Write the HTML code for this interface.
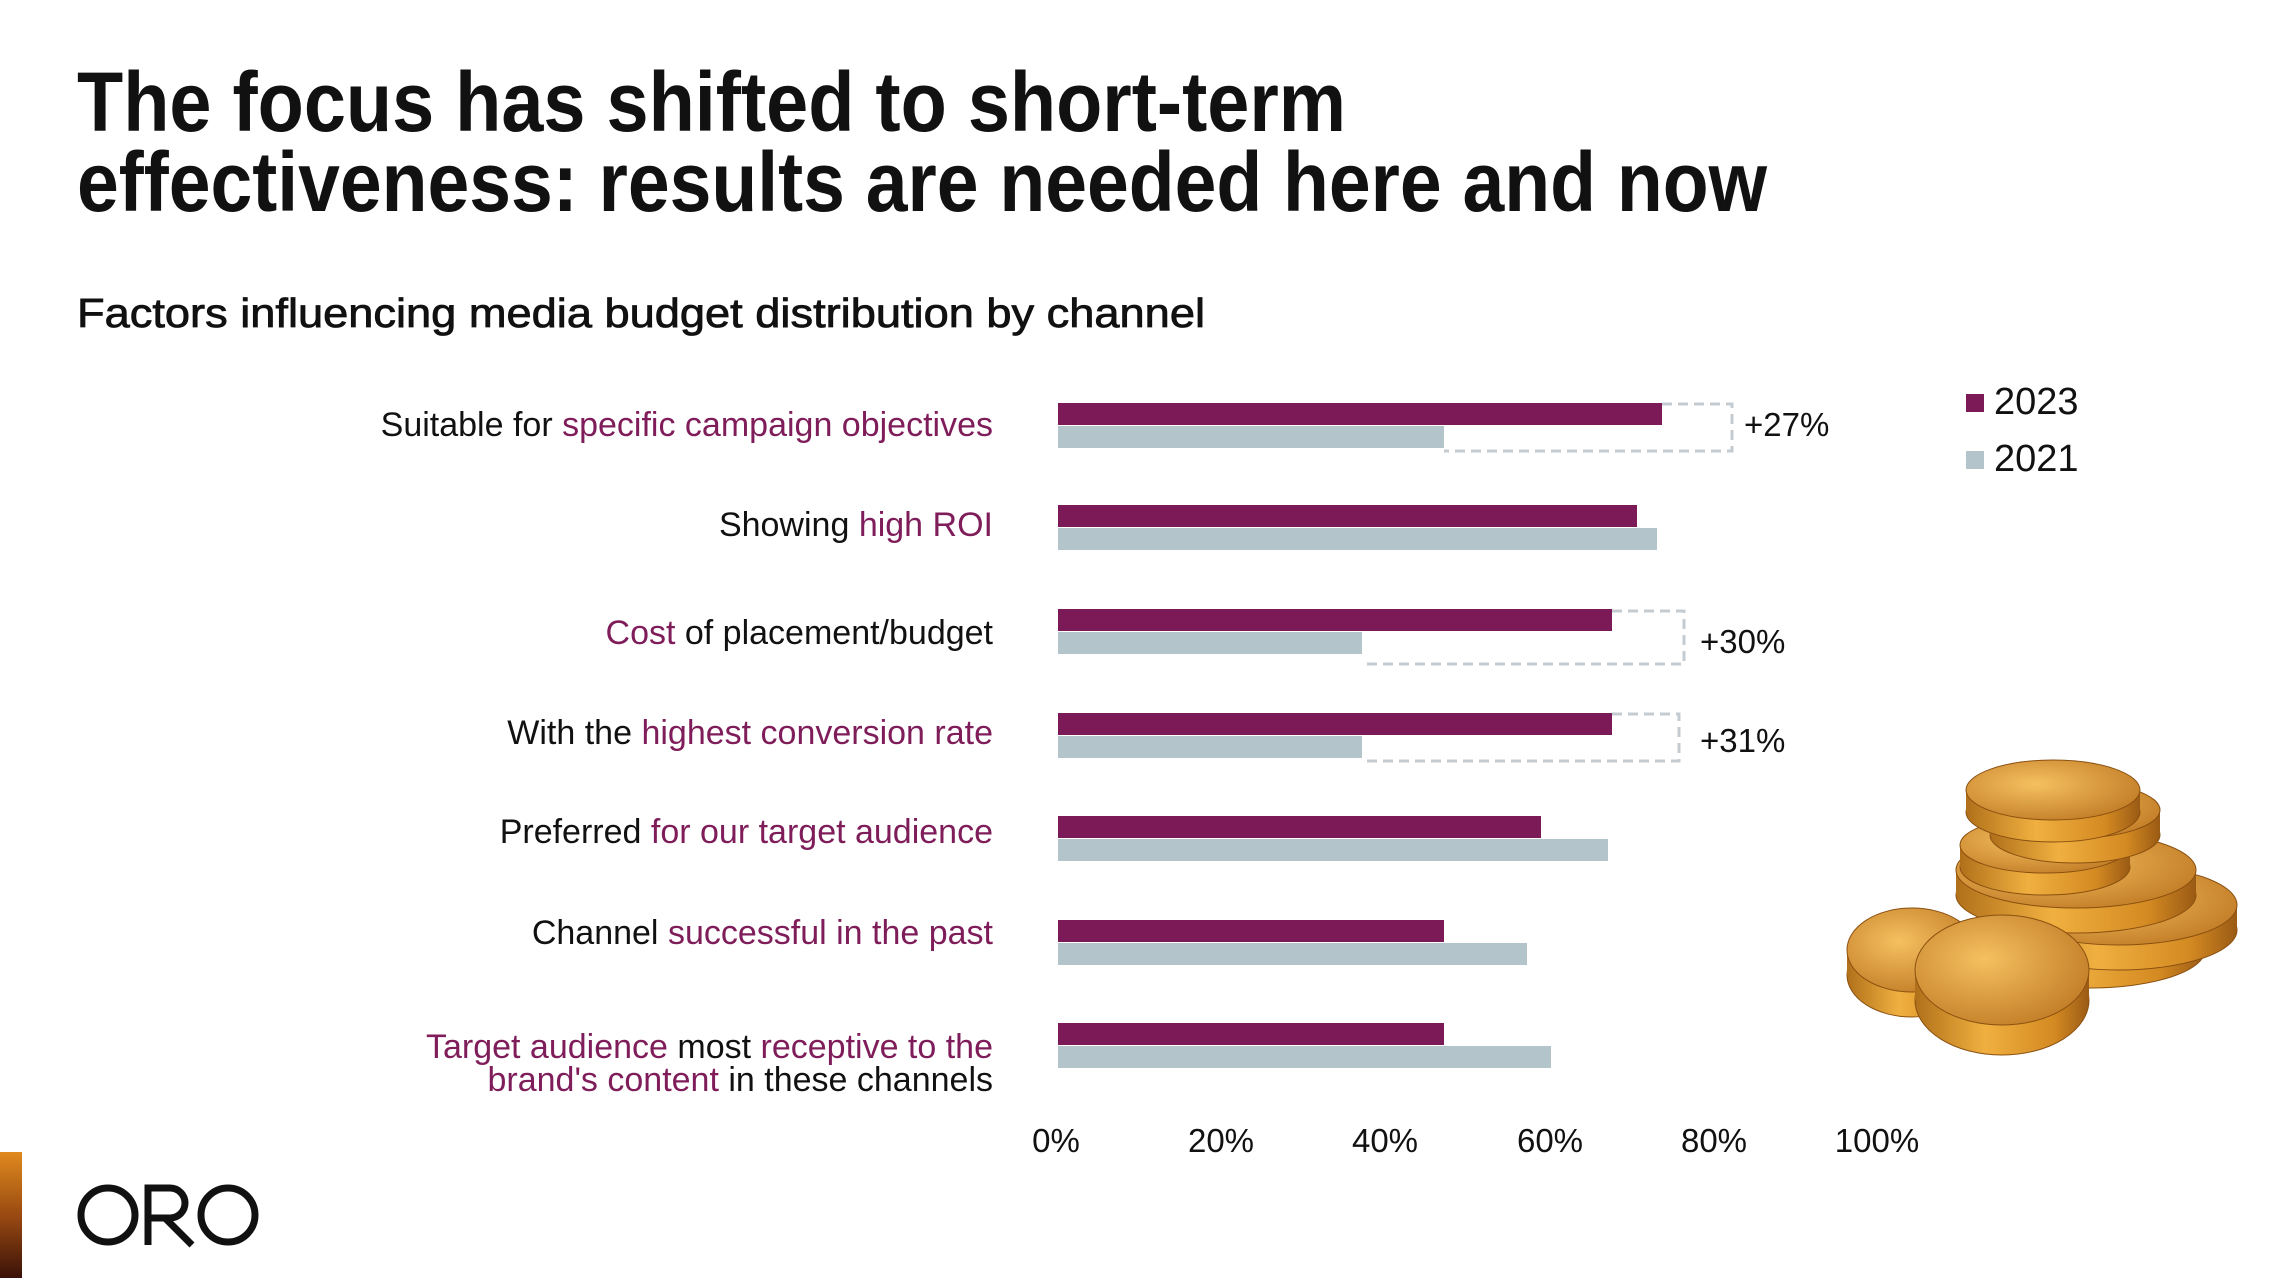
<!DOCTYPE html>
<html><head><meta charset="utf-8"><style>
html,body{margin:0;padding:0;background:#fff;}
svg{display:block;}
text{font-family:"Liberation Sans",sans-serif;}
</style></head><body>
<svg width="2270" height="1278" viewBox="0 0 2270 1278" xmlns="http://www.w3.org/2000/svg">
<defs>
<linearGradient id="og" x1="0" y1="0" x2="0" y2="1"><stop offset="0" stop-color="#e08a1e"/><stop offset="0.5" stop-color="#9a4a12"/><stop offset="1" stop-color="#3a1208"/></linearGradient>
<linearGradient id="gside" x1="0" y1="0" x2="1" y2="0"><stop offset="0" stop-color="#b0701a"/><stop offset="0.4" stop-color="#f0b040"/><stop offset="0.8" stop-color="#d48a22"/><stop offset="1" stop-color="#9a5a14"/></linearGradient>
<radialGradient id="gface" cx="0.4" cy="0.4" r="0.7"><stop offset="0" stop-color="#f5c060"/><stop offset="1" stop-color="#c07a24"/></radialGradient>
</defs>
<text x="77" y="131" font-size="84" font-weight="bold" fill="#111" textLength="1269" lengthAdjust="spacingAndGlyphs">The focus has shifted to short-term</text>
<text x="77" y="211" font-size="84" font-weight="bold" fill="#111" textLength="1690" lengthAdjust="spacingAndGlyphs">effectiveness: results are needed here and now</text>
<text x="77" y="327" font-size="41" fill="#111" stroke="#111" stroke-width="0.8" textLength="1128" lengthAdjust="spacingAndGlyphs">Factors influencing media budget distribution by channel</text>

<g font-size="34" fill="#111" text-anchor="end">
<text x="993" y="436">Suitable for <tspan fill="#7f1d5a">specific campaign objectives</tspan></text>
<text x="993" y="536">Showing <tspan fill="#7f1d5a">high ROI</tspan></text>
<text x="993" y="644"><tspan fill="#7f1d5a">Cost</tspan> of placement/budget</text>
<text x="993" y="744">With the <tspan fill="#7f1d5a">highest conversion rate</tspan></text>
<text x="993" y="843">Preferred <tspan fill="#7f1d5a">for our target audience</tspan></text>
<text x="993" y="944">Channel <tspan fill="#7f1d5a">successful in the past</tspan></text>
<text x="993" y="1058"><tspan fill="#7f1d5a">Target audience</tspan> most <tspan fill="#7f1d5a">receptive to the</tspan></text>
<text x="993" y="1091"><tspan fill="#7f1d5a">brand's content</tspan> in these channels</text>
</g>

<g fill="none" stroke="#c4ccd2" stroke-width="3" stroke-dasharray="10,6">
<polyline points="1662,404 1732,404 1732,451 1444,451"/>
<polyline points="1612,611 1684,611 1684,664 1362,664"/>
<polyline points="1612,714 1679,714 1679,761 1362,761"/>
</g>

<g>
<rect x="1058" y="403" width="604" height="22" fill="#7b1a57"/><rect x="1058" y="426" width="386" height="22" fill="#b4c4cb"/>
<rect x="1058" y="505" width="579" height="22" fill="#7b1a57"/><rect x="1058" y="528" width="599" height="22" fill="#b4c4cb"/>
<rect x="1058" y="609" width="554" height="22" fill="#7b1a57"/><rect x="1058" y="632" width="304" height="22" fill="#b4c4cb"/>
<rect x="1058" y="713" width="554" height="22" fill="#7b1a57"/><rect x="1058" y="736" width="304" height="22" fill="#b4c4cb"/>
<rect x="1058" y="816" width="483" height="22" fill="#7b1a57"/><rect x="1058" y="839" width="550" height="22" fill="#b4c4cb"/>
<rect x="1058" y="920" width="386" height="22" fill="#7b1a57"/><rect x="1058" y="943" width="469" height="22" fill="#b4c4cb"/>
<rect x="1058" y="1023" width="386" height="22" fill="#7b1a57"/><rect x="1058" y="1046" width="493" height="22" fill="#b4c4cb"/>
</g>

<g font-size="33" fill="#111">
<text x="1744" y="436">+27%</text>
<text x="1700" y="653">+30%</text>
<text x="1700" y="752">+31%</text>
</g>

<g font-size="33" fill="#111" text-anchor="middle">
<text x="1056" y="1152">0%</text><text x="1221" y="1152">20%</text><text x="1385" y="1152">40%</text>
<text x="1550" y="1152">60%</text><text x="1714" y="1152">80%</text><text x="1877" y="1152">100%</text>
</g>

<rect x="1966" y="394" width="18" height="18" fill="#7b1a57"/>
<text x="1994" y="414" font-size="38" fill="#111">2023</text>
<rect x="1966" y="451" width="18" height="18" fill="#b4c4cb"/>
<text x="1994" y="471" font-size="38" fill="#111">2021</text>

<g stroke="#8a5010" stroke-width="1">
<g><ellipse cx="2090" cy="950" rx="115" ry="38" fill="url(#gside)"/><rect x="1975" y="925" width="230" height="25" fill="url(#gside)" stroke="none"/><ellipse cx="2090" cy="925" rx="115" ry="38" fill="url(#gface)"/></g>
<g><ellipse cx="2119" cy="930" rx="118" ry="40" fill="url(#gside)"/><rect x="2001" y="905" width="236" height="25" fill="url(#gside)" stroke="none"/><ellipse cx="2119" cy="905" rx="118" ry="40" fill="url(#gface)"/></g>
<g><ellipse cx="2076" cy="895" rx="120" ry="38" fill="url(#gside)"/><rect x="1956" y="870" width="240" height="25" fill="url(#gside)" stroke="none"/><ellipse cx="2076" cy="870" rx="120" ry="38" fill="url(#gface)"/></g>
<g><ellipse cx="2045" cy="867" rx="85" ry="28" fill="url(#gside)"/><rect x="1960" y="845" width="170" height="22" fill="url(#gside)" stroke="none"/><ellipse cx="2045" cy="845" rx="85" ry="28" fill="url(#gface)"/></g>
<g><ellipse cx="2075" cy="835" rx="85" ry="28" fill="url(#gside)"/><rect x="1990" y="810" width="170" height="25" fill="url(#gside)" stroke="none"/><ellipse cx="2075" cy="810" rx="85" ry="28" fill="url(#gface)"/></g>
<g><ellipse cx="2053" cy="812" rx="87" ry="30" fill="url(#gside)"/><rect x="1966" y="790" width="174" height="22" fill="url(#gside)" stroke="none"/><ellipse cx="2053" cy="790" rx="87" ry="30" fill="url(#gface)"/></g>
<g><ellipse cx="1912" cy="975" rx="65" ry="42" fill="url(#gside)"/><rect x="1847" y="950" width="130" height="25" fill="url(#gside)" stroke="none"/><ellipse cx="1912" cy="950" rx="65" ry="42" fill="url(#gface)"/></g>
<g><ellipse cx="2002" cy="1000" rx="87" ry="55" fill="url(#gside)"/><rect x="1915" y="970" width="174" height="30" fill="url(#gside)" stroke="none"/><ellipse cx="2002" cy="970" rx="87" ry="55" fill="url(#gface)"/></g>
</g>

<rect x="0" y="1152" width="22" height="126" fill="url(#og)"/>
<g fill="none" stroke="#111" stroke-width="7">
<circle cx="108" cy="1215" r="27"/>
<path d="M148 1245 V1188 H170 A15 15 0 0 1 170 1218 H150 M165 1218 L192 1245"/>
<circle cx="228" cy="1215" r="27"/>
</g>
</svg>
</body></html>
